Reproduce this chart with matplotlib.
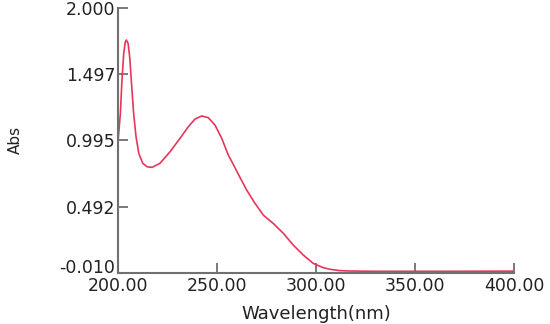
import matplotlib
matplotlib.use("Agg")
import matplotlib.pyplot as plt
import matplotlib.transforms as mtransforms

wavelength = [200.0, 201.2, 202.0, 202.9, 203.7, 204.2, 205.1, 205.9, 206.7, 207.9,
              209.1, 210.5, 212.5, 214.7, 217.2, 221.2, 226.3, 231.3, 235.5, 238.9,
              242.3, 245.6, 249.0, 252.4, 255.7, 258.7, 261.6, 265.0, 269.2, 273.4,
              278.4, 283.5, 288.5, 293.6, 298.6, 303.7, 307.1, 312.1, 317.2, 330.0,
              350.0, 370.0, 390.0, 400.0]
absorbance = [0.985, 1.201, 1.454, 1.656, 1.744, 1.757, 1.732, 1.630, 1.454, 1.201,
              1.024, 0.898, 0.822, 0.796, 0.791, 0.822, 0.910, 1.011, 1.099, 1.158,
              1.181, 1.168, 1.112, 1.011, 0.885, 0.800, 0.715, 0.619, 0.518, 0.429,
              0.366, 0.291, 0.202, 0.126, 0.063, 0.030, 0.018, 0.008, 0.005, 0.003,
              0.003, 0.003, 0.004, 0.004]

xticks = [200, 250, 300, 350, 400]
xtick_labels = ["200.00", "250.00", "300.00", "350.00", "400.00"]
yticks = [2.000, 1.497, 0.995, 0.492, -0.010]
ytick_labels = ["2.000", "1.497", "0.995", "0.492", "-0.010"]

plt.rcParams['font.family'] = ['DejaVu Sans']

fig = plt.figure(figsize=(5.5, 3.24), dpi=100)
ax = fig.add_axes([118/550, 1-273/324, (514-118)/550, (273-8)/324])

ax.plot(wavelength, absorbance, color='#e8365a', lw=1.2)

ax.set_xlim(200, 400)
ax.set_ylim(-0.010, 2.000)

spine_c = '#707070'
for s in ['top', 'right']:
    ax.spines[s].set_visible(False)
for s in ['left', 'bottom']:
    ax.spines[s].set_color(spine_c)
    ax.spines[s].set_linewidth(1.5)

ax.set_xticks(xticks)
ax.set_xticklabels(xtick_labels)
ax.set_yticks(yticks)
ax.set_yticklabels(ytick_labels)
ax.tick_params(axis='both', direction='in', length=7, width=1.3, color=spine_c,
               labelsize=12.5, labelcolor='#222222')
ax.tick_params(axis='y', pad=2)
ax.tick_params(axis='x', pad=3)

# shift the bottom y label upward slightly
lbl = ax.get_yticklabels()[-1]
lbl.set_transform(lbl.get_transform() + mtransforms.ScaledTranslation(0, 7/100, fig.dpi_scale_trans))

ax.set_xlabel("Wavelength(nm)", fontsize=13, color='#222222', labelpad=7)
fig.text(15/550, 1-140/324, "Abs", rotation=90, ha='center', va='center',
         fontsize=11, color='#222222')

fig.savefig("out.png", dpi=100)
